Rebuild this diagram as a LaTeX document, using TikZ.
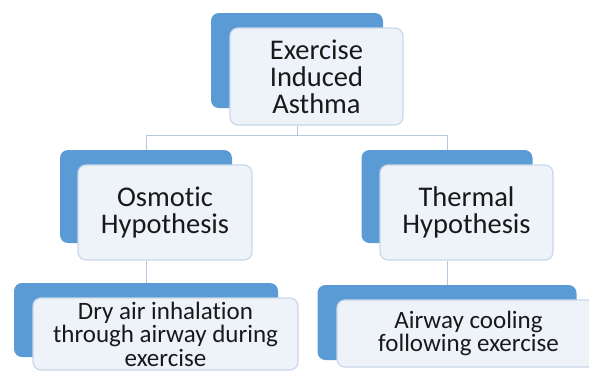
\documentclass[tikz,border=0pt]{standalone}
\usepackage{fontspec}
\setmainfont{Carlito}[Ligatures=NoCommon]
\usepackage{tikz}
\definecolor{backblue}{HTML}{5B9BD5}
\definecolor{boxfill}{HTML}{EEF3FA}
\definecolor{boxline}{HTML}{C9D7EA}
\definecolor{linkcol}{HTML}{B4C8E0}
\tikzstyle{back}=[rectangle, rounded corners=8pt, fill=backblue, draw=none, inner sep=0pt]
\tikzset{front/.style={rectangle, rounded corners=8pt, fill=boxfill, draw=boxline,
      line width=1.2pt, align=center, inner sep=0pt, text=black!90}}
\tikzset{link/.style={draw=linkcol, line width=1pt}}
\tikzset{bigtext/.style={font=\fontsize{28.5}{27}\selectfont}}
\tikzset{smalltext/.style={font=\fontsize{25}{23.5}\selectfont}}

\begin{document}
\begin{tikzpicture}[x=1pt,y=-1pt]
		\useasboundingbox (0,0) rectangle (589,370);
		\node[back, minimum width=172pt, minimum height=95pt] (asthmaback) at (297,60.5) {};
		\node[front, bigtext, minimum width=173pt, minimum height=97pt] (asthma) at (316.5,76.5) {Exercise\\Induced\\Asthma};
		\node[back, minimum width=172pt, minimum height=93pt] (osmoticback) at (146,196.5) {};
		\node[front, bigtext, minimum width=174pt, minimum height=95pt] (osmotic) at (165,212.5) {Osmotic\\Hypothesis};
		\node[back, minimum width=171pt, minimum height=93pt] (thermalback) at (447,196.5) {};
		\node[front, bigtext, minimum width=173pt, minimum height=95pt] (thermal) at (466.5,212.5) {Thermal\\Hypothesis};
		\node[back, minimum width=264pt, minimum height=74pt] (dryback) at (146,320) {};
		\node[front, smalltext, minimum width=265pt, minimum height=72pt] (dry) at (165.5,334) {Dry air inhalation\\through airway during\\exercise};
		\node[back, minimum width=259pt, minimum height=75pt] (coolback) at (447,322.5) {};
		\node[front, smalltext, minimum width=263pt, minimum height=67pt] (cool) at (468.5,333.5) {Airway cooling\\following exercise};
		\draw[link] (asthmaback.center |- asthma.south) -- ++(0,10) coordinate (split) -| (osmoticback.north);
		\draw[link] (split) -| (thermalback.north);
		\draw[link] (osmoticback.center |- osmotic.south) -- (dryback.north);
		\draw[link] (thermalback.center |- thermal.south) -- (coolback.north);
\end{tikzpicture}
\end{document}
